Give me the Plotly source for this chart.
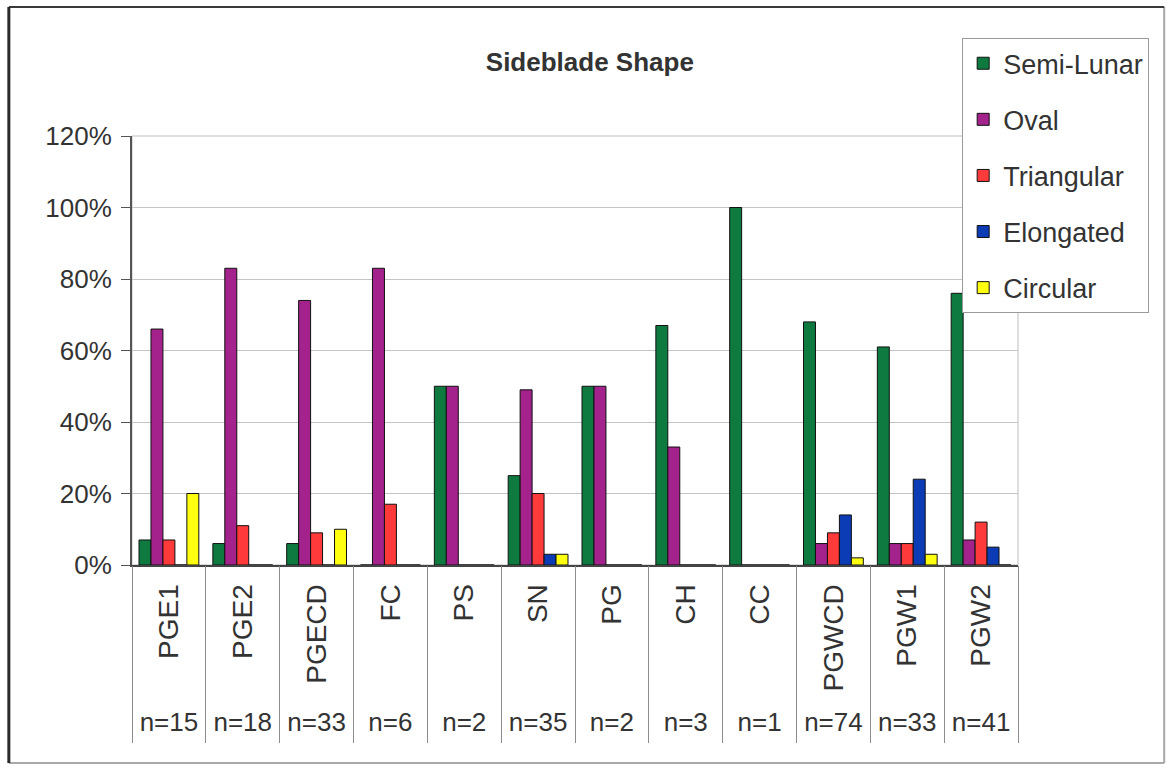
import plotly.graph_objects as go

# categories and sample sizes
sites = ["PGE1", "PGE2", "PGECD", "FC", "PS", "SN", "PG", "CH", "CC", "PGWCD", "PGW1", "PGW2"]
n_labels = ["n=15", "n=18", "n=33", "n=6", "n=2", "n=35", "n=2", "n=3", "n=1", "n=74", "n=33", "n=41"]

# shares per shape (fraction of sideblades)
semi_lunar = [0.07, 0.06, 0.06, 0.00, 0.50, 0.25, 0.50, 0.67, 1.00, 0.68, 0.61, 0.76]
oval = [0.66, 0.83, 0.74, 0.83, 0.50, 0.49, 0.50, 0.33, 0.00, 0.06, 0.06, 0.07]
triangular = [0.07, 0.11, 0.09, 0.17, 0.00, 0.20, 0.00, 0.00, 0.00, 0.09, 0.06, 0.12]
elongated = [0.00, 0.00, 0.00, 0.00, 0.00, 0.03, 0.00, 0.00, 0.00, 0.14, 0.24, 0.05]
circular = [0.20, 0.00, 0.10, 0.00, 0.00, 0.03, 0.00, 0.00, 0.00, 0.02, 0.03, 0.00]

series = [
    ("Semi-Lunar", semi_lunar, "#0e7a40"),
    ("Oval", oval, "#a3228b"),
    ("Triangular", triangular, "#ff3a3a"),
    ("Elongated", elongated, "#0b3bb5"),
    ("Circular", circular, "#ffff10"),
]

FONT = "Liberation Sans, Arial, sans-serif"
TXT = "#333333"
FS = 26

fig = go.Figure()
for i, (name, vals, col) in enumerate(series):
    fig.add_trace(go.Bar(x=sites, y=vals, name=name, legendgroup=str(i),
                         marker=dict(color=col, line=dict(color="#111111", width=1))))

# empty trace so the second category axis (n= row and dividers) gets drawn
fig.add_trace(go.Scatter(x=sites, y=[None] * len(sites), xaxis="x2", mode="markers",
                         showlegend=False, hoverinfo="skip"))

fig.update_layout(
    width=1168, height=773,
    margin=dict(l=132, r=150, t=136, b=208),
    paper_bgcolor="white", plot_bgcolor="white",
    font=dict(family=FONT, size=FS, color=TXT),
    barmode="group", bargap=0.19, bargroupgap=0,
    title=dict(text="<b>Sideblade Shape</b>", x=0.505, xanchor="center",
               y=0.92, yanchor="middle", font=dict(size=FS, color=TXT)),
    legend=dict(x=0.937, y=1.228, xanchor="left", yanchor="top",
                bgcolor="white", bordercolor="#9a9a9a", borderwidth=1,
                font=dict(size=27, color=TXT), tracegroupgap=18,
                traceorder="grouped", itemwidth=30),
    xaxis=dict(type="category", tickangle=-90, ticks="", showline=True,
               linecolor="#444444", linewidth=2, ticklabelstandoff=6,
               tickfont=dict(size=28, color=TXT)),
    xaxis2=dict(overlaying="x", anchor="y", side="bottom", type="category",
                categoryorder="array", categoryarray=sites, range=[-0.5, len(sites) - 0.5],
                tickmode="array", tickvals=sites, ticktext=n_labels,
                tickson="boundaries", ticks="outside", ticklen=177, tickwidth=1,
                tickcolor="#8c8c8c", showgrid=False, zeroline=False, showline=False,
                ticklabelstandoff=139, tickfont=dict(size=FS, color=TXT)),
    yaxis=dict(range=[0, 1.2], dtick=0.2, tickformat=".0%", showgrid=True,
               gridcolor="#c4c4c4", gridwidth=1, zeroline=False, showline=True,
               linecolor="#555555", linewidth=2, ticks="outside", ticklen=9,
               tickcolor="#555555", ticklabelstandoff=4,
               tickfont=dict(size=FS, color=TXT)),
    shapes=[
        dict(type="rect", xref="paper", yref="paper", x0=0, x1=1, y0=0, y1=1,
             line=dict(color="#bdbdbd", width=1), layer="below"),
        # chart frame: dark top/left, lighter right/bottom
        dict(type="line", xref="paper", yref="paper", x0=-0.139, x1=1.165,
             y0=-0.4615, y1=-0.4615, line=dict(color="#a8a8a8", width=2)),
        dict(type="line", xref="paper", yref="paper", x0=1.165, x1=1.165,
             y0=-0.4615, y1=1.3007, line=dict(color="#a8a8a8", width=2)),
        dict(type="line", xref="paper", yref="paper", x0=-0.139, x1=1.165,
             y0=1.3007, y1=1.3007, line=dict(color="#3a3a3a", width=2)),
        dict(type="line", xref="paper", yref="paper", x0=-0.139, x1=-0.139,
             y0=-0.4615, y1=1.3007, line=dict(color="#2a2a2a", width=3)),
    ],
)

fig.write_html("out.html", config={"displayModeBar": False},
               post_script="document.body.style.margin='0';")
